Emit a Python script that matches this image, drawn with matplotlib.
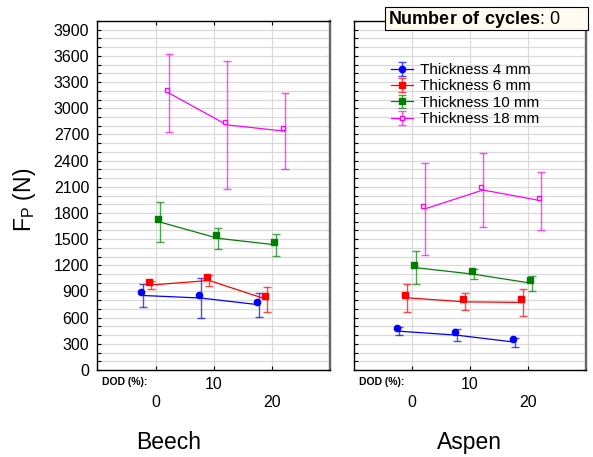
import matplotlib
matplotlib.use("Agg")
import matplotlib.pyplot as plt
import matplotlib.transforms as mtransforms
from matplotlib.lines import Line2D
from matplotlib.patches import Rectangle
from matplotlib.container import ErrorbarContainer
from matplotlib.legend_handler import HandlerTuple, HandlerErrorbar
import numpy as np

plt.rcParams['font.family'] = ['Liberation Sans', 'DejaVu Sans']
plt.rcParams['mathtext.fontset'] = 'custom'
plt.rcParams['mathtext.rm'] = 'Liberation Sans'
plt.rcParams['mathtext.bf'] = 'Liberation Sans:bold'

# === Donnees ===
dod = [0, 10, 20]
labels = ["Thickness 4 mm", "Thickness 6 mm", "Thickness 10 mm", "Thickness 18 mm"]

beech_mean = [[854, 825, 748], [974, 1026, 808], [1696, 1509, 1434], [3176, 2810, 2737]]
beech_err = [[137, 226, 137], [49, 63, 143], [229, 122, 128], [449, 731, 437]]

aspen_mean = [[445, 399, 319], [827, 781, 774], [1172, 1097, 993], [1847, 2063, 1940]]
aspen_err = [[44, 67, 52], [162, 97, 151], [190, 57, 84], [529, 428, 332]]

# === Style ===
colors = ['#0000ff', '#ff0000', '#008000', '#ff00ff']
markers = ['o', 's', 's', 's']
msizes = [4.5, 5, 5, 3.5]
mfaces = ['#0000ff', '#ff0000', '#008000', 'white']
dodge = [-2.25, -0.8, 0.75, 2.25]

fig = plt.figure(figsize=(5.93, 4.57), dpi=100)
ax1 = fig.add_axes([0.1644, 0.1904, 0.392, 0.7636])
ax2 = fig.add_axes([0.597, 0.1904, 0.391, 0.7636])

# petit decalage des marqueurs (comme dans l'original)
mk_shift = mtransforms.ScaledTranslation(-2 / 100, 3 / 100, fig.dpi_scale_trans)

legend_handles = []
for ax, means, errs in [(ax1, beech_mean, beech_err), (ax2, aspen_mean, aspen_err)]:
    ax.set_xlim(-10, 30)
    ax.set_ylim(0, 4000)
    ax.set_yticks(np.arange(0, 4000, 300))
    ax.set_yticks(np.arange(0, 4001, 100), minor=True)
    ax.set_xticks([0, 20], labels=['0', '20'])
    ax.set_xticks([10], labels=['10'], minor=True)
    ax.grid(True, which='both', axis='both', color='#dadada', lw=0.9, zorder=0)
    ax.set_axisbelow(True)
    ax.tick_params(axis='y', which='both', direction='in', left=True, right=False,
                   length=3, width=0.8, labelsize=11.5, pad=6)
    ax.tick_params(axis='x', which='both', direction='in', top=True, bottom=True,
                   length=3, width=0.8, labelsize=11.5)
    ax.tick_params(axis='x', which='major', pad=18)
    ax.tick_params(axis='x', which='minor', pad=5)
    for sp in ax.spines.values():
        sp.set_linewidth(1.0)
    ax.spines['right'].set_color('#666666')
    ax.spines['right'].set_linewidth(1.6)

    sec = ax.secondary_yaxis('right')
    sec.set_yticks(np.arange(0, 4001, 400))
    sec.tick_params(direction='in', length=3, width=0.8, labelright=False)
    sec.spines['right'].set_color('#666666')
    sec.spines['right'].set_linewidth(1.6)

    for i in range(4):
        x = np.array(dod) + dodge[i]
        eb = ax.errorbar(x, means[i], yerr=errs[i], fmt='none', ecolor=colors[i],
                         elinewidth=1.0, capsize=3, capthick=1.0, alpha=0.7, zorder=3)
        ax.plot(x, means[i], color=colors[i], lw=0.9, zorder=4)
        ax.plot(x, means[i], linestyle='none', marker=markers[i], ms=msizes[i],
                mfc=mfaces[i], mec=colors[i], mew=1.0, zorder=5,
                transform=ax.transData + mk_shift)
        if ax is ax2:
            proxy = Line2D([], [], color=colors[i], lw=0.9, marker=markers[i],
                           ms=msizes[i], mfc=mfaces[i], mec=colors[i])
            legend_handles.append((eb, proxy))

ax2.tick_params(axis='y', which='both', labelleft=False)

ax2.legend(legend_handles, labels,
           handler_map={tuple: HandlerTuple(ndivide=1),
                        ErrorbarContainer: HandlerErrorbar(yerr_size=0.45)},
           loc='upper left', bbox_to_anchor=(0.147, 0.888), frameon=False,
           fontsize=11, labelspacing=0.15, handlelength=1.4, handletextpad=0.5,
           borderpad=0.2, borderaxespad=0)

# textes
fig.text(24 / 593, 1 - 200 / 457, r'F$_{\mathregular{P}}$ (N)', rotation=90,
         fontsize=16.5, ha='center', va='center')
fig.text(102 / 593, 1 - 382 / 457, 'DOD (%):', fontsize=7.5, fontweight='bold',
         ha='left', va='center')
fig.text(359 / 593, 1 - 382 / 457, 'DOD (%):', fontsize=7.5, fontweight='bold',
         ha='left', va='center')
fig.text(169 / 593, 1 - 449 / 457, 'Beech', fontsize=16.5, ha='center', va='baseline')
fig.text(469 / 593, 1 - 449 / 457, 'Aspen', fontsize=16.5, ha='center', va='baseline')

# cadre "Number of cycles"
fig.patches.append(Rectangle((385 / 593, 1 - 30 / 457), 203 / 593, 23 / 457,
                             transform=fig.transFigure, facecolor='#fffbf0',
                             edgecolor='black', lw=0.8, zorder=10))
fig.text(388 / 593, 1 - 19 / 457, r'$\mathbf{Number\ of\ cycles}$: 0', fontsize=13,
         ha='left', va='center', zorder=11)

fig.savefig('out.png', dpi=100)
